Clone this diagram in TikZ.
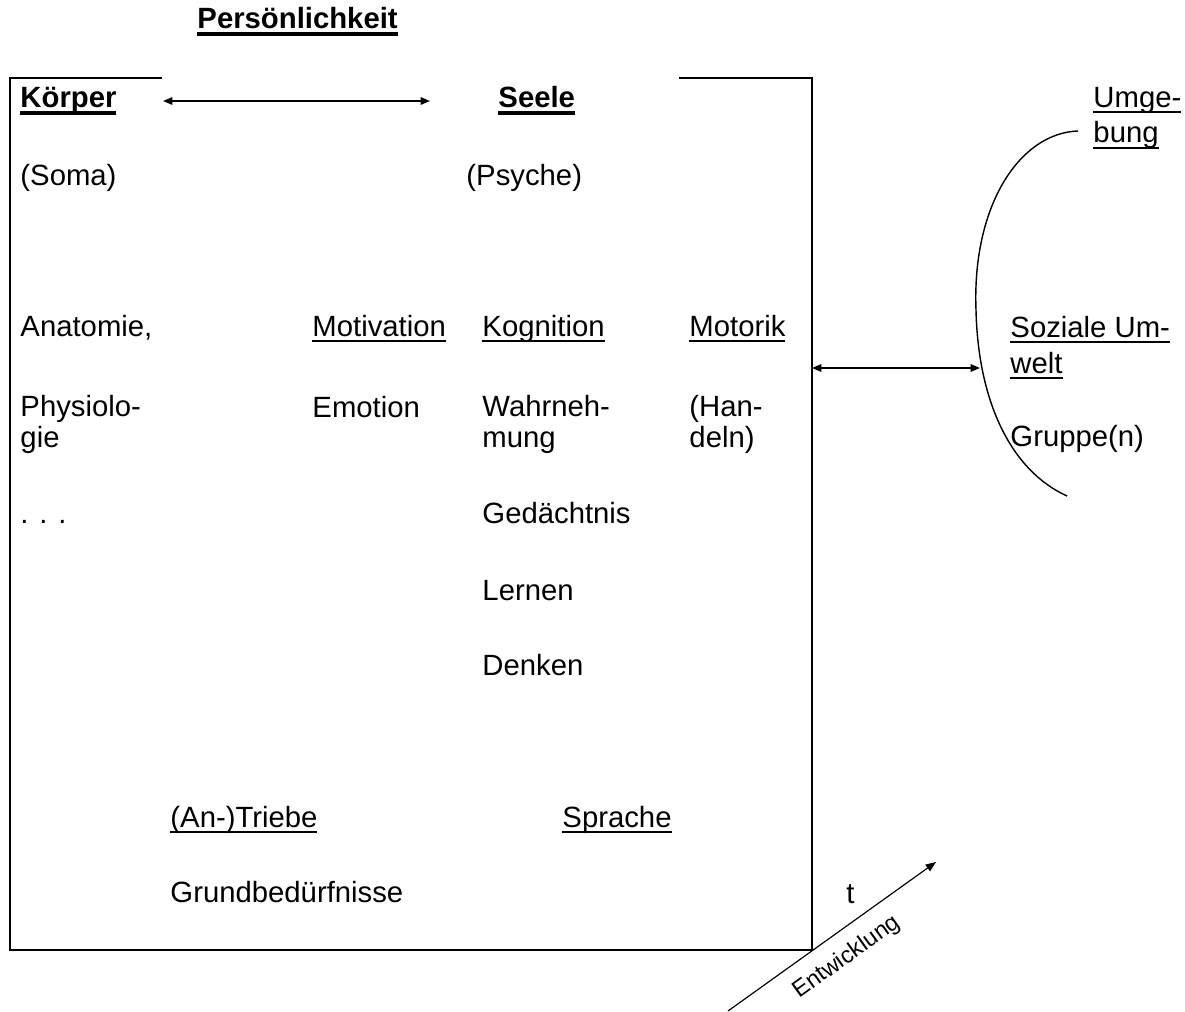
\documentclass[tikz,border=0pt]{standalone}
\usepackage{fontspec}
\setmainfont{Liberation Sans}
\usetikzlibrary{arrows.meta}

% underlined text, as the picture prints it
\newsavebox{\ulsave}
\newcommand{\ulx}[1]{\sbox{\ulsave}{#1}\rlap{\rule[-2.6pt]{\wd\ulsave}{1.1pt}}\usebox{\ulsave}}
\newcommand{\ulb}[1]{\sbox{\ulsave}{\bfseries #1}\rlap{\rule[-2.9pt]{\wd\ulsave}{1.5pt}}\usebox{\ulsave}}

\tikzset{
  lbl/.style={anchor=base west, inner sep=0pt, align=left,
              font=\fontsize{12.5}{13.3}\selectfont},
  biarrow/.style={line width=0.6pt, {Triangle[length=4pt,width=3.2pt]}-{Triangle[length=4pt,width=3.2pt]}},
  devarrow/.style={line width=0.5pt, -{Triangle[length=4.4pt,width=3.4pt]}},
  frame/.style={line width=1.1pt}
}

\begin{document}
\begin{tikzpicture}[x=0.015cm, y=-0.015cm]
            \useasboundingbox (0,0) rectangle (1185,1012);
            % Draw the box, open at the top between the two segments
            \draw[frame] (162,78) -- (10,78) -- (10,950) -- (812,950) -- (812,78) -- (679,78);

            % Title and headings
            \node[lbl] (persoenlichkeit) at (197,29) {\ulb{Persönlichkeit}};
            \node[lbl] (koerper) at (20,108) {\ulb{Körper}};
            \node[lbl] (seele) at (498,108) {\ulb{Seele}};
            \node[lbl] (soma) at (20,186) {(Soma)};
            \node[lbl] (psyche) at (466,186) {(Psyche)};

            % Columns inside the box (two-line nodes sit on their last line)
            \node[lbl] (anatomie) at (20,336) {Anatomie,};
            \node[lbl] (physiologie) at (20,448) {Physiolo-\\gie};
            \node[lbl] (dots) at (20,524) {. . .};
            \node[lbl] (motivation) at (312,336) {\ulx{Motivation}};
            \node[lbl] (emotion) at (312,417) {Emotion};
            \node[lbl] (kognition) at (482,336) {\ulx{Kognition}};
            \node[lbl] (wahrnehmung) at (482,448) {Wahrneh-\\mung};
            \node[lbl] (gedaechtnis) at (482,524) {Gedächtnis};
            \node[lbl] (lernen) at (482,600) {Lernen};
            \node[lbl] (denken) at (482,675) {Denken};
            \node[lbl] (motorik) at (689,336) {\ulx{Motorik}};
            \node[lbl] (handeln) at (689,448) {(Han-\\deln)};
            \node[lbl] (triebe) at (170,827) {\ulx{(An-)Triebe}};
            \node[lbl] (sprache) at (562,827) {\ulx{Sprache}};
            \node[lbl] (beduerfnisse) at (170,902) {Grundbedürfnisse};

            % Environment on the right
            \node[lbl] (umgebung) at (1093,143) {\ulx{Umge-}\\[2pt]\ulx{bung}};
            \node[lbl] (sozial) at (1010,373) {\ulx{Soziale Um-}\\[2pt]\ulx{welt}};
            \node[lbl] (gruppe) at (1010,447) {Gruppe(n)};
            \draw[line width=0.6pt] (1078,131) .. controls (1020,133) and (972,205) .. (976,310)
                .. controls (978,400) and (1010,470) .. (1067,496);

            % Arrows
            \coordinate (ksl) at (163,101);
            \coordinate (ksr) at (430,101);
            \draw[biarrow] (ksl) -- (ksr);
            \coordinate (boxr) at (812,368);
            \coordinate (arcl) at (980,368);
            \draw[biarrow] (boxr) -- (arcl);

            % Development axis
            \coordinate (devs) at (728,1011);
            \coordinate (deve) at (936,862);
            \draw[devarrow] (devs) -- node[sloped, below=6pt, inner sep=0pt, font=\fontsize{10}{12}\selectfont] (entw) {Entwicklung} (deve);
            \node[lbl] (tlabel) at (846,903) {t};
        \end{tikzpicture}
\end{document}
